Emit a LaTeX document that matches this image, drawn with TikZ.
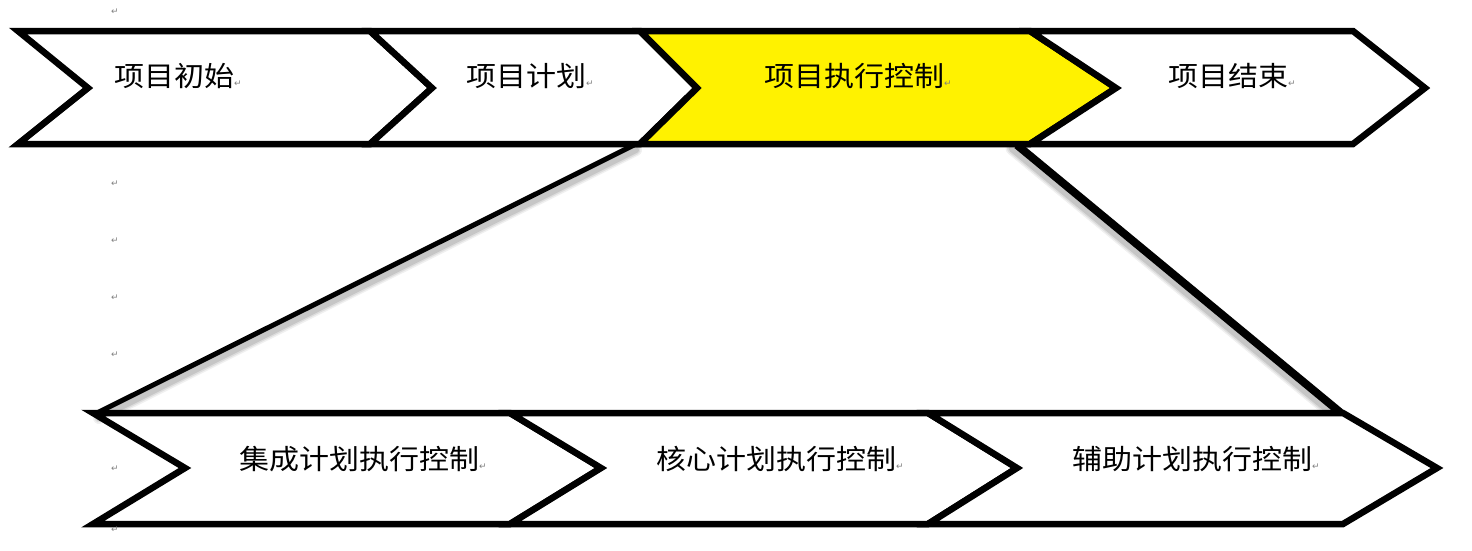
\documentclass[tikz,border=0pt]{standalone}
\usepackage{fontspec}
\usepackage{graphicx}
\setmainfont{Noto Sans CJK SC}
\newfontfamily\dejavu{DejaVu Sans}
\newcommand\parmk{{\dejavu\fontsize{9}{9}\selectfont\color{gray}↵}}
\newcommand\lbtext[1]{\scalebox{1}[0.92]{#1}\parmk}
\begin{document}
\begin{tikzpicture}[x=1pt,y=-1pt,
  chev/.style={draw=black,line width=6.5pt,line join=miter,fill=white},
  lbl/.style={font=\fontsize{30}{32}\selectfont,inner sep=0pt},
  mk/.style={inner sep=0pt,font=\dejavu\fontsize{9}{9}\selectfont,text=gray},
  diag/.style={draw=black,line cap=butt},
  shad/.style={draw=black,line cap=round}]
\useasboundingbox (0,0) rectangle (1472,550);
% corner coordinates
\coordinate (ybl) at (634,145);
\coordinate (ybr) at (1017,145);
\coordinate (btl) at (97,413);
\coordinate (btr) at (1341,413);
% soft shadows of the diagonal connectors
\foreach \o/\w in {0.06/12,0.08/9,0.10/6}{
  \draw[shad,line width=\w pt,opacity=\o] ([xshift=2pt,yshift=-5pt]ybl) -- ([xshift=2pt,yshift=-5pt]btl);
  \draw[shad,line width=\w pt+3pt,opacity=\o] ([xshift=-4pt,yshift=-3pt]ybr) -- ([xshift=-4pt,yshift=-3pt]btr);
}
% diagonal connectors
\draw[diag,line width=5pt] (ybl) -- (btl);
\draw[diag,line width=8pt] (ybr) -- (btr);
% top row
\draw[chev] (18,31) -- (370,31) -- (432,88) -- (370,144) -- (18,144) -- (88,88) -- cycle;
\draw[chev] (370,31) -- (640,31) -- (697,88) -- (640,144) -- (370,144) -- (432,88) -- cycle;
\draw[chev,fill=yellow] (640,31) -- (1030,31) -- (1116,88) -- (1030,144) -- (640,144) -- (697,88) -- cycle;
\draw[chev] (1030,31) -- (1353,31) -- (1425,88) -- (1353,144) -- (1030,144) -- (1116,88) -- cycle;
% bottom row
\draw[chev] (93,413) -- (510,413) -- (601,468) -- (510,524) -- (93,524) -- (185,468) -- cycle;
\draw[chev] (510,413) -- (928,413) -- (1017,468) -- (928,524) -- (510,524) -- (601,468) -- cycle;
\draw[chev] (928,413) -- (1343,413) -- (1437,468) -- (1343,524) -- (928,524) -- (1017,468) -- cycle;
% labels
\node[lbl] (t1) at (178,76) {\lbtext{项目初始}};
\node[lbl] (t2) at (530,76) {\lbtext{项目计划}};
\node[lbl] (t3) at (858,76) {\lbtext{项目执行控制}};
\node[lbl] (t4) at (1232,76) {\lbtext{项目结束}};
\node[lbl] (b1) at (363,459) {\lbtext{集成计划执行控制}};
\node[lbl] (b2) at (780,459) {\lbtext{核心计划执行控制}};
\node[lbl] (b3) at (1196,459) {\lbtext{辅助计划执行控制}};
% paragraph marks
\node[mk] (m1) at (115,12) {↵};
\node[mk] (m2) at (115,184) {↵};
\node[mk] (m3) at (115,241) {↵};
\node[mk] (m4) at (115,298) {↵};
\node[mk] (m5) at (115,355) {↵};
\node[mk] (m6) at (115,469) {↵};
\node[mk] (m7) at (115,530) {↵};
\end{tikzpicture}
\end{document}
